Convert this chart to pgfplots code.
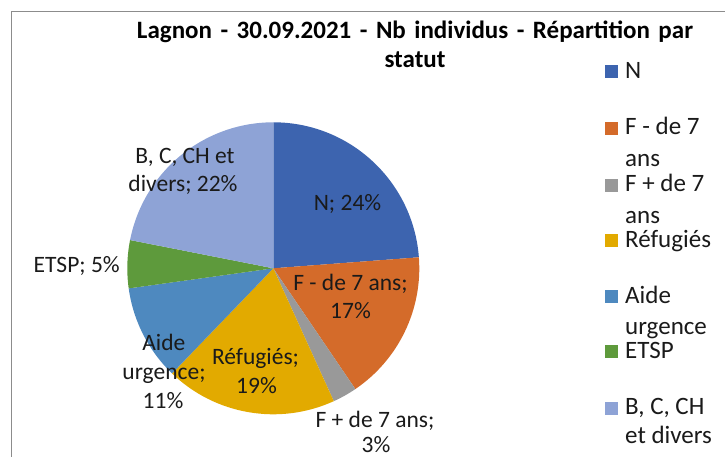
\documentclass[border=0pt]{standalone}
\usepackage{pgfplots}
\usepackage{pgfplotstable}
\pgfplotsset{compat=1.18}
\usepackage{fontspec}
\setmainfont{Carlito}
\newfontfamily\titlefam[WordSpace=1.5]{Carlito}
\definecolor{cN}{HTML}{3D64AF}
\definecolor{cFm}{HTML}{D46B2A}
\definecolor{cFp}{HTML}{999999}
\definecolor{cRef}{HTML}{E2AA00}
\definecolor{cAide}{HTML}{4E89BF}
\definecolor{cETSP}{HTML}{5E9A3C}
\definecolor{cB}{HTML}{8EA3D6}
\definecolor{frameg}{HTML}{8C8C8C}
\definecolor{txt}{HTML}{1A1A1A}
\pgfplotstableread{
name value color
N 23.8 cN
Fm 16.7 cFm
Fp 2.7 cFp
Ref 19.0 cRef
Aide 10.6 cAide
ETSP 5.3 cETSP
B 21.9 cB
}\piedata
\pgfplotstablegetrowsof{\piedata}
\pgfmathtruncatemacro\nrows{\pgfplotsretval-1}
\newcommand\lf{\fontsize{23.5bp}{29bp}\selectfont}
\newcommand\legf{\fontsize{25bp}{30bp}\selectfont}
\newcommand\titf{\titlefam\fontsize{25bp}{29bp}\selectfont\bfseries}
\begin{document}
\begin{tikzpicture}
\useasboundingbox (0,0) rectangle (725bp,457bp);
\begin{axis}[
  at={(0,0)}, anchor=south west,
  scale only axis, width=725bp, height=457bp,
  xmin=0, xmax=725, ymin=0, ymax=457,
  hide axis, clip=false,
]
% frame
\draw[frameg, line width=1bp] (axis cs:11.7,0) -- (axis cs:11.7,445.3) -- (axis cs:725,445.3);
% pie
\gdef\piecum{0}
\foreach \i in {0,...,\nrows}{
  \pgfplotstablegetelem{\i}{value}\of\piedata \let\sliceval\pgfplotsretval
  \pgfplotstablegetelem{\i}{color}\of\piedata \let\slicecol\pgfplotsretval
  \pgfmathsetmacro\slicea{90-\piecum*3.6}
  \pgfmathsetmacro\sliceb{90-(\piecum+\sliceval)*3.6}
  \edef\slicecmd{\noexpand\fill[fill=\slicecol] (axis cs:273.3,188.7) -- ++(\slicea:146bp) arc[start angle=\slicea, end angle=\sliceb, radius=146bp] -- cycle;}
  \slicecmd
  \pgfmathsetmacro\newcum{\piecum+\sliceval}
  \xdef\piecum{\newcum}
}
% title
\node[anchor=base, font=\titf, text=black, inner sep=0pt] at (axis cs:415,457-38.5) {Lagnon - 30.09.2021 - Nb individus - Répartition par};
\node[anchor=base, font=\titf, text=black, inner sep=0pt] at (axis cs:415,457-67.5) {statut};
% data labels
\begin{scope}[every node/.style={anchor=base, font=\lf, text=txt, inner sep=0pt}]
\node at (axis cs:347.5,457-211) {N; 24\%};
\node at (axis cs:350.5,457-291) {F - de 7 ans;};
\node at (axis cs:350.5,457-319) {17\%};
\node at (axis cs:375,457-427) {F + de 7 ans;};
\node at (axis cs:376,457-452.5) {3\%};
\node at (axis cs:255.5,457-365) {Réfugiés;};
\node at (axis cs:256.5,457-394) {19\%};
\node at (axis cs:163.8,457-350.7) {Aide};
\node at (axis cs:164,457-379.5) {urgence;};
\node at (axis cs:163,457-408.3) {11\%};
\node at (axis cs:76.7,457-272.3) {ETSP; 5\%};
\node at (axis cs:185,457-163.3) {B, C, CH et};
\node at (axis cs:183,457-191.7) {divers; 22\%};
\end{scope}
% legend
\begin{scope}[every node/.style={anchor=base west, font=\legf, text=txt, inner sep=0pt}]
\fill[cN] (axis cs:605,457-78.3) rectangle (axis cs:618,457-65.3);
\node at (axis cs:625,457-78.3) {N};
\fill[cFm] (axis cs:605,457-135) rectangle (axis cs:618,457-122);
\node at (axis cs:625,457-135) {F - de 7};
\node at (axis cs:625,457-166.7) {ans};
\fill[cFp] (axis cs:605,457-191.7) rectangle (axis cs:618,457-178.7);
\node at (axis cs:625,457-191.7) {F + de 7};
\node at (axis cs:625,457-223.3) {ans};
\fill[cRef] (axis cs:605,457-247.5) rectangle (axis cs:618,457-234.5);
\node at (axis cs:625,457-247.5) {Réfugiés};
\fill[cAide] (axis cs:605,457-303.3) rectangle (axis cs:618,457-290.3);
\node at (axis cs:625,457-303.3) {Aide};
\node at (axis cs:625,457-335) {urgence};
\fill[cETSP] (axis cs:605,457-358.3) rectangle (axis cs:618,457-345.3);
\node at (axis cs:625,457-358.3) {ETSP};
\fill[cB] (axis cs:605,457-415) rectangle (axis cs:618,457-402);
\node at (axis cs:625,457-415) {B, C, CH};
\node at (axis cs:625,457-443.3) {et divers};
\end{scope}
\end{axis}
\end{tikzpicture}
\end{document}
